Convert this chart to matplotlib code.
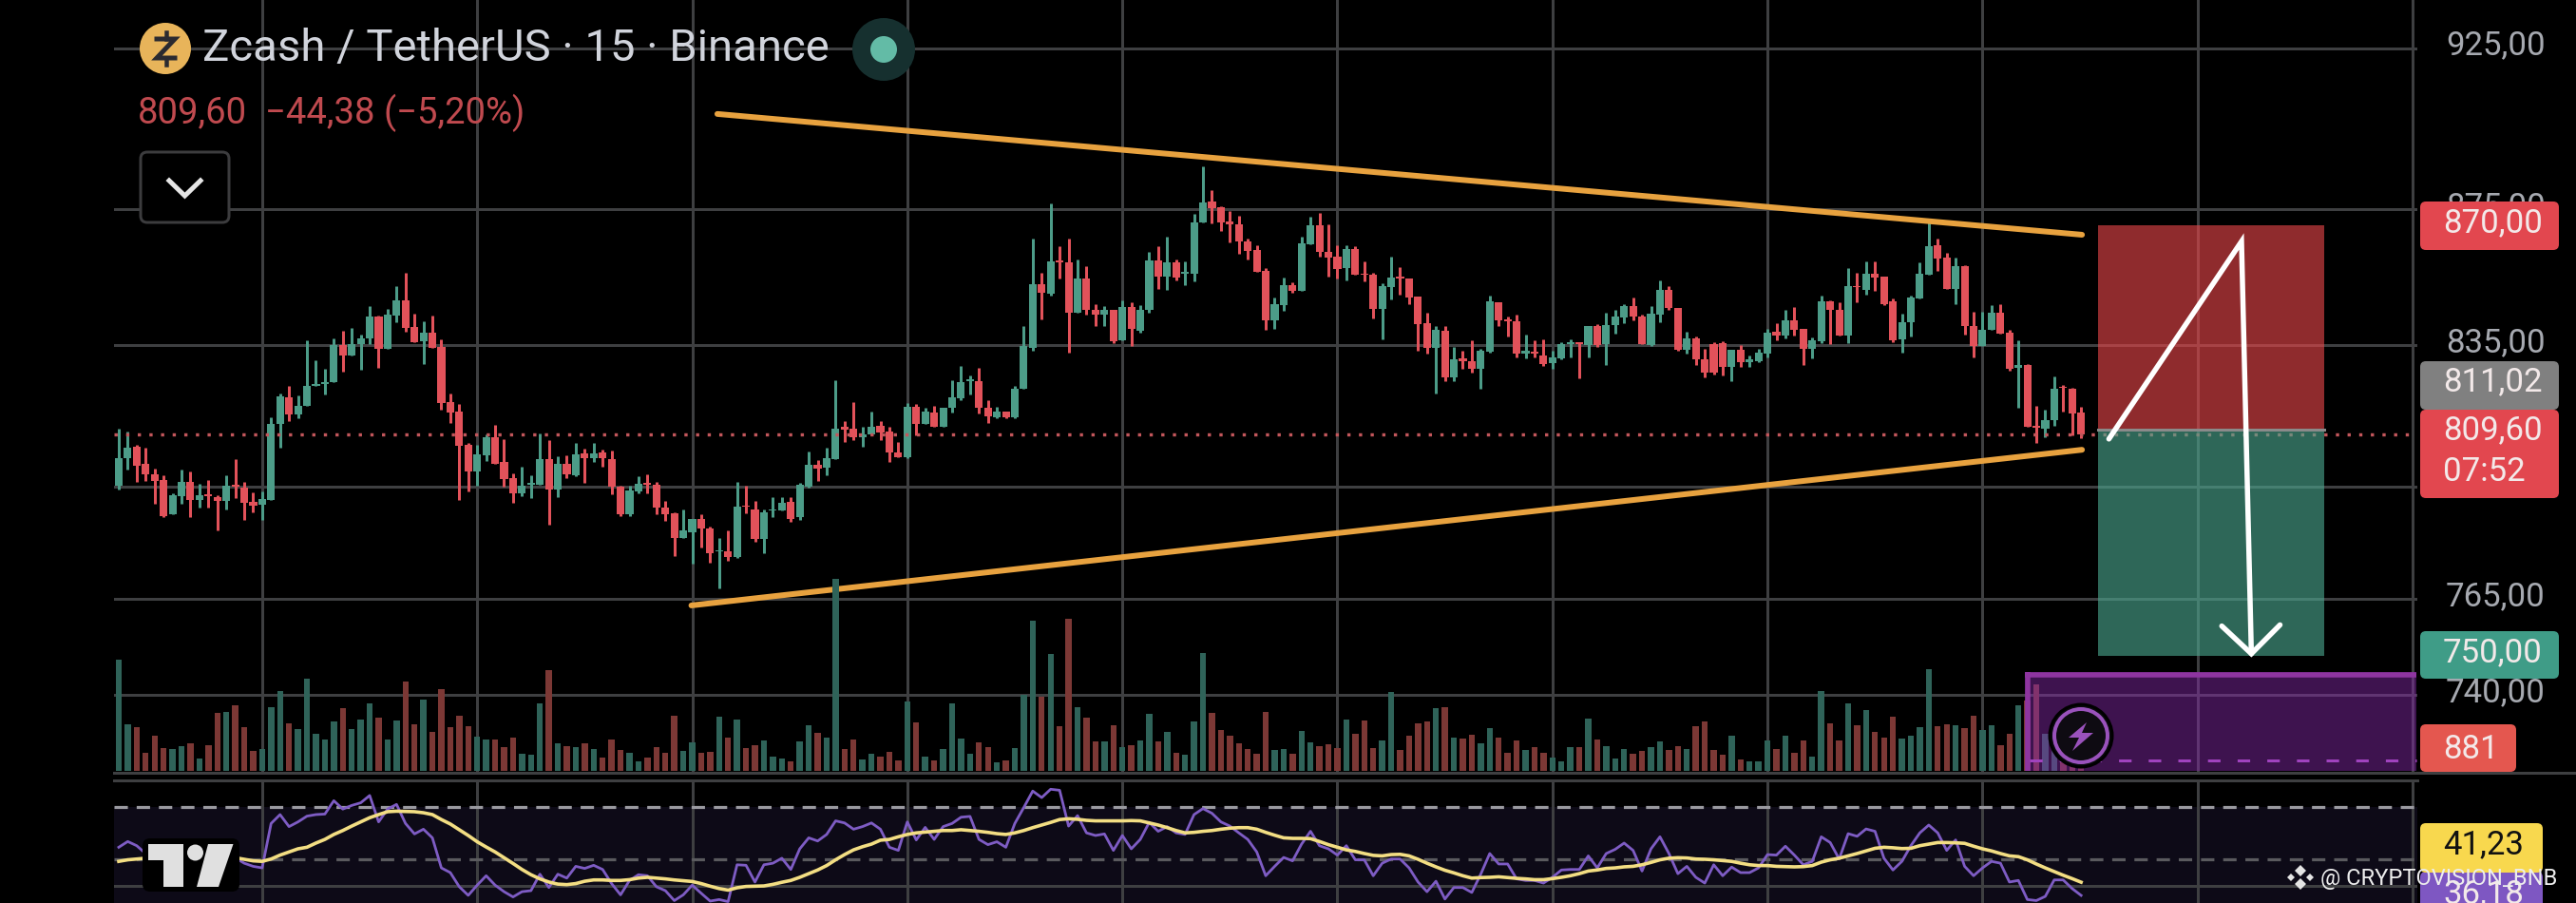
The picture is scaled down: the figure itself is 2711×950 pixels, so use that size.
import numpy as np
import matplotlib
matplotlib.use("Agg")
import matplotlib.pyplot as plt
from matplotlib.patches import Rectangle, FancyBboxPatch, Circle, Polygon, Ellipse
from matplotlib.ticker import NullLocator, FixedLocator, NullFormatter
from matplotlib.transforms import ScaledTranslation

plt.rcParams['font.family'] = ['Roboto', 'DejaVu Sans']

# ------------------------------ data ------------------------------
directions = ("GGRRRRGGRG" "RRGRRRGGGR" "GGGGGRGGGR" "GGRRGRRRRR"
              "GGRRRGGGRG" "RGRGRRRGGR" "RRRGGRRGRG" "RRGGGRGGRG"
              "GRRGGRRRGR" "GRGGGGRRGR" "GGGRGRRGRR" "GRGRGGRGRG"
              "GGRRRRRRRG" "GRGGRRRGRR" "RGGRRRRGRG" "RRGGRRRGRR"
              "GGGRGRGGGR" "RGGRRGRRRR" "GRGGGRGRRG" "GRRGRGRRRG"
              "GGGRRGRRGG" "RRGRRGGRRR")
highs = [811.3,810.4,806.6,805.8,800,798.2,793.4,799.7,799.2,795.9,
         796.9,792.7,798.2,802.8,796.3,793.5,793.7,814.3,821,823.1,
         820.6,836.4,830.5,828,836.9,839,839.9,838,846.2,843.4,
         845.4,852.2,855.9,844.1,841.8,843.4,836.7,821.2,818.1,807.3,
         806.6,809.6,812.2,808.2,798.8,800.7,798.3,809.9,807.9,803.4,
         803.7,807.3,805.7,807.3,805.4,805,795.3,795.3,797.9,798.5,
         796.3,791.2,788,788.9,786.4,787.6,784.3,781.2,783.2,796.3,
         795.3,791.2,788.9,792.2,792.2,792.3,796.1,804.8,802.5,805.8,
         824.9,813.4,818.7,811.6,815.9,813.4,811.6,807.4,818.5,818.2,
         817,817.6,817,824.9,829,826.1,828.4,819.2,817.3,816,
         823.2,840.3,866.2,856,876.7,863.8,866.1,859.9,858,846.9,
         846.3,845.2,848,847.3,846.4,862.2,863.9,866.6,859.8,859.5,
         873.6,888,880.7,876,874.3,872.9,866.1,864.2,857.4,848.8,
         854.6,853.3,866.6,872.8,873.8,870.4,864.1,864.1,863.8,859.5,
         856.1,852.9,860.8,857.7,854.4,849.1,844.4,840.3,840.3,834.4,
         833.4,836.2,833.7,849.4,847.3,843.1,843.7,838,836.2,836.5,
         833.2,835.8,836.7,835.7,840.3,841,844.4,845,846.9,848.8,
         843.7,846.3,853.8,852.1,845.7,838.9,837.3,833.7,835.8,836,
         833.5,834.8,832,833.7,839.6,841.2,845,846,839.6,837.1,
         849.2,847.8,847.3,857.3,855.9,859.4,859.4,855,848.4,843.9,
         849.2,859,871.2,866.1,862,860.5,858.3,844.5,844.5,846.4,
         846.9,839.4,836.4,829.6,817.6,816.6,825.9,823.5,822.6,817.4]
body_tops = [803.1,805.8,806.2,801.4,798.6,797,792.9,796.3,796.3,792.7,
             793,792.3,795.3,795.7,794.8,791,791.7,812.6,820.2,820,
             817.5,823.1,823.9,824.4,834.8,834.8,835.3,836.9,843.2,843.2,
             843.7,848,848,840.2,838.5,838.6,834.3,818.6,816,806.6,
             803.9,808.9,808.7,801.8,797.5,795.5,796.2,802.8,802.8,801.4,
             801.4,804.1,804.3,804.4,804.6,802.8,795.1,794,796,796.2,
             795.7,789.5,787.9,783.2,786.4,786.2,783.8,777.9,777.7,789.6,
             790,788.9,788.1,788.9,790.7,790.9,795.6,801.1,801.2,802.9,
             811.3,811.6,811.1,809.7,811.8,811.9,810.5,804.5,817.2,817.2,
             816,815.7,817,820,824.4,825,824.6,817,816,815.9,
             822.5,834.6,852.7,852.7,859.4,859.6,859.1,854.2,854.2,845.2,
             845,845.2,845.9,845.9,845.2,859.7,859.6,859.2,859,856.3,
             870.9,877,877.2,875.7,871.2,870.4,865.4,862.8,856.6,846.9,
             852.3,852.4,864.7,870,870,862.3,860.8,863,862.9,855.8,
             855.3,852.1,854.6,854.8,854.2,849.1,841.2,839.2,839,830.7,
             831,830.3,833.2,847.6,847.3,842.3,841.7,833.2,833.1,832,
             831.5,835.1,835.7,835.7,840.3,840.3,840.8,843.1,846.2,846.2,
             843.3,844.1,851,851,845.7,836.9,836.9,830.7,835.2,835.4,
             833.5,833.5,830.8,832.6,838.4,838.9,842,842,839.5,836.2,
             847.6,847.6,845.2,852,852.2,855.7,855.7,854.9,847.5,841.6,
             848.8,855.7,863.8,864.1,860.5,858,858,840.5,839.4,844.2,
             844.2,838.4,829.3,829.3,811.9,813.6,822.5,822.9,822.3,815.8]
body_bottoms = [795.5,803,801,798.4,796.6,787,787.6,792.6,791.6,791.6,
                792.6,791.1,791.1,795.1,790.7,790,790.3,791.6,812.6,815.3,
                815.3,817.5,823.1,823.9,824.2,832,832,835.2,836.9,833.9,
                833.9,843.4,840,835.8,836,834.1,818.4,815.7,806.4,799.2,
                799.2,803.8,801.4,797.2,793.3,793.3,795.7,795.7,794.4,794.4,
                798.5,798.3,803.1,803.1,802.9,795,787.6,787.6,793.8,795.7,
                789.3,787.6,781.2,781.2,782.8,783.6,777.2,777.5,776,776,
                789.6,781,780.8,788.6,788.6,786.3,786.8,795.2,800.2,800.3,
                802.7,810.9,808.7,808.9,809.7,810.2,804.5,803.3,803.2,812.4,
                812.4,811.7,811.7,817,819.7,824.5,817,814.6,814.3,814.4,
                814.3,822.3,834,850.1,849.7,859,844.2,844.2,845,843.8,
                843.7,836,836.3,839.5,839,845,854.8,854.8,854.6,855.7,
                855.7,870.9,875.4,871,870.3,865.2,862.4,856.4,842,842,
                846.6,850.7,850.8,864.5,862.1,860.5,857.1,857.3,855.5,855.3,
                845.3,845.3,851.8,854.2,848.8,841,834.1,834.1,825.7,825.7,
                830.3,828.1,828.1,833,842.2,841.7,832.4,832.4,832.5,829.6,
                829.8,831.2,835.1,835.1,834.9,834.9,835.2,840.7,842.9,843.3,
                835.1,834.9,843.7,845.7,833.5,833.5,830.8,826.9,826.9,828.7,
                828.7,830,829.9,830.3,832.4,837.6,837.6,839.3,833.8,833.8,
                836,845.2,837.6,837.6,851.8,851,854.6,846.7,836.4,836.6,
                841.4,848.5,855.5,860.3,851.3,851.3,840.5,834.6,834.6,839.3,
                838.3,828.1,828.4,811.7,811.4,811.2,813.6,822.6,815.4,809.6]
lows = [794.4,799.7,796.5,796.6,790.5,786.7,787.6,790.5,786.7,789.5,
        789.5,783.2,789,792.1,786.1,788,786.1,791.6,806,813.2,
        814,817.5,823.1,820.9,824.2,827.4,832,827.8,835.2,828.4,
        833.9,841.4,838.8,835.8,829.6,834,816.6,812.9,791.4,793.9,
        795.5,802.2,801.4,795,790.7,792.6,792,795.7,784.8,792.2,
        797.5,798.1,796.2,801.8,800.7,793,787.2,787.2,793.2,793.4,
        787.5,785.8,776.3,781.2,774.4,778.5,774.5,767.8,775,775.8,
        787.8,780.2,777,786.9,788.6,785.5,786.1,794.9,796.6,798.2,
        802.7,807.5,808,806.2,809.5,808,802,803.2,803,809.3,
        812.4,811.6,811.6,815.6,819.2,820.7,815.4,812.8,814.1,814,
        814.1,822.3,833.4,842.3,849.2,854.3,832.7,844.2,843.8,840.4,
        840.4,835.4,836.3,834.7,838.5,844.3,851.1,850.9,853.8,852.4,
        853.4,870.9,870.7,868.5,865,861.5,859.8,856.4,839.3,839.6,
        844.8,850,850.8,864.5,860.9,854.8,854.2,853.7,855.5,853.6,
        842.6,836.6,848.2,849.5,846.7,833.4,832.4,821.2,824.7,824.6,
        828.1,827.1,822.3,832.6,840.5,837.4,831.5,831.2,831.3,829,
        828.1,830.9,831.3,825.4,831.5,834.5,829.2,838.3,841.2,842,
        835.1,834.6,841.4,845,833.4,832.5,829.2,825.7,826.6,826.2,
        824.7,828.7,828.7,830,831.5,836.2,836.9,837.6,829.3,831.2,
        835.5,835.1,837.6,835.5,847.2,849.5,850.8,846.4,835.8,832.7,
        837.4,848.5,855.5,856.6,851.3,846.9,838,831.5,834.6,839.3,
        838.3,827.6,817,811.7,807.2,808.8,811.9,815.9,809.4,808.6]
volumes = [351,147,138,57,111,72,68,78,87,39,81,183,186,206,138,63,69,201,251,150,
           133,291,117,99,156,198,133,162,213,168,99,159,283,147,225,123,258,138,174,141,
           108,99,99,75,105,54,51,213,318,87,78,75,87,69,42,99,66,57,30,42,
           75,57,174,63,91,57,60,171,105,162,72,81,95,45,39,30,93,144,120,105,
           606,69,99,36,54,45,60,33,219,153,45,33,69,213,102,54,90,75,27,33,
           72,240,473,233,369,141,480,201,168,93,93,144,75,81,96,180,93,123,57,51,
           156,372,183,129,111,87,69,54,186,66,69,54,126,90,78,84,72,162,117,159,
           72,96,248,66,111,150,156,198,201,105,102,114,87,135,105,57,96,66,75,57,
           42,30,75,75,165,99,78,39,69,54,63,75,93,66,78,69,141,156,66,51,
           111,36,30,30,96,69,111,57,96,45,252,150,96,213,144,192,123,105,171,102,
           111,138,321,141,147,144,135,174,129,144,81,117,207,221,273,117,83,33,18,32]
rsi = [54.6,56.8,55.2,52.2,51,50.4,51.6,52.8,52.2,51.6,52.8,51.6,50.4,50.6,48.5,47.3,46.7,63.7,67.1,62.5,
       64.3,66.5,67.1,67.3,72.4,69.2,70.6,71.6,74.4,64.3,69.2,71,63.7,59.7,61.5,58.2,46.7,44.9,39.5,36.2,
       40.1,43.7,40.1,37.6,35.6,37.6,38,44.3,39.2,44.3,42.8,47.3,46.5,47.7,46.1,40.7,36.4,41.9,44.1,43.7,
       39.5,38,34.2,36.4,40.1,37,34,34.6,33.8,47.9,47.7,41.3,47.9,48.5,50.4,46.1,54,58.2,57,59.5,
       64.7,63.9,61.5,62.5,63.9,61.5,54.6,53.4,64.3,57.4,62.2,57.6,62.5,63.7,66.1,66.4,57.6,55.6,56.7,54.6,
       63.7,69.8,76.1,73.6,76.8,76.4,62.7,66.7,60.1,59.1,59.7,53.4,59.1,54,57.6,64.1,60.7,62.5,60.1,59.5,
       67.1,69.4,67.6,64.3,62.7,60.1,57.6,52.8,43.7,47.3,50.7,49.4,55.8,60.7,55.2,54,51.6,55.2,49.8,49.8,
       43.7,48.5,50.1,50.1,46.7,41.3,37.6,41.6,34.8,39.2,39.2,37.3,44.3,52.2,48.2,48.2,42.5,41.9,41.9,40.9,
       43.1,45.9,46.1,46.1,51.3,46.7,52.2,53.8,56.2,53.4,45.5,54,58.6,52.2,44.5,47.3,43.1,40.9,47.9,43.7,
       47,44.9,44.9,46.7,51.8,51.6,55,51.6,47.9,49.2,58.6,56.4,50.1,59.8,58.8,61.6,60.7,50.4,45.9,49.2,
       55.2,60.1,63.1,60.1,53.4,57.4,47.3,43.7,46.7,49.2,48.5,41.3,41.9,34.6,34.2,35.8,42.1,42.1,38.8,36.18]
rsi_ma = [49.2,49.8,50.1,50.4,50.6,50.7,50.7,50.6,50.6,50.6,50.6,50.6,50.6,50.6,50,49.4,49.2,50.1,51.6,52.8,
          54,54.6,56.2,57.6,59.5,61,62.7,64.3,65.9,67.1,68.2,68.4,68.3,68.2,67.8,67.1,65.2,63.5,61.3,59.1,
          56.7,54.7,52.8,50.6,48.4,46.1,44.1,42.5,41.3,40.5,40.3,40.7,41.6,42.1,42.1,41.9,41.9,42.2,42.8,43.1,
          42.8,42.5,42.1,41.8,41.5,40.7,39.7,38.8,38.2,39.1,39.6,39.7,39.8,40.4,41.2,41.9,43.1,44.5,45.9,47.6,
          49.8,51.8,53.6,54.8,55.8,57.3,57.6,58.6,59.5,60.1,60.4,60.7,61,61,61.3,61,60.7,60.3,59.8,59.5,
          60.1,61,62.1,63.1,64.1,65.2,65.5,65.3,64.9,64.7,64.7,64.7,64.7,64.8,64.7,63.9,63.1,62.1,61,60.1,
          60.3,60.7,61,61.5,61.9,62.1,62.1,61.5,60.3,59.2,58.2,58,58,57.9,56.8,55.6,54.6,53.6,53,52.2,
          51.5,51.3,51.8,51.9,51.3,50,48.5,47.1,45.8,44.8,43.7,42.8,43,43.1,43.3,43,42.7,42.5,42.2,42.2,
          42.6,43.1,43.7,44.5,45.5,45.9,46.5,46.7,47.1,47.3,47.9,48.8,49.8,50.4,50.6,50.5,50.1,50,49.8,49.5,
          49.2,48.5,47.9,47.6,47.6,47.3,47.2,47.1,47.2,47.6,48.9,49.8,50.4,51.3,52.2,53.2,54.2,54.6,54.4,54.1,
          54.2,55.2,55.8,56.4,56.4,56.3,56.1,55,54,53.2,52.2,51.3,51,49.8,48.2,46.7,45.3,43.9,42.6,41.23]

price_ticks = [925, 875, 835, 795, 765, 740]
price_tick_labels = ['925,00', '875,00', '835,00', '', '765,00', '740,00']
upper_trend_x, upper_trend_p = [66.8, 219.1], [904.2, 867.3]
lower_trend_x, lower_trend_p = [63.9, 219.1], [763.2, 805.3]
sketch_x, sketch_p = [222.1, 236.9, 238.0], [808.3, 865.3, 750.6]
head_x, head_p = [234.7, 238.0, 241.2], [757.8, 750.6, 758.1]
last_price, entry_price, stop_price, target_price = 809.60, 811.02, 870.00, 750.00
position_x = [220.9, 246.1]
grid_idx = list(range(16, 257, 24))
rsi_upper, rsi_mid, rsi_grid = 70, 50, 40

assert all(len(a) == 220 for a in (directions, highs, body_tops, body_bottoms, lows, volumes, rsi, rsi_ma)), \
    [len(a) for a in (directions, highs, body_tops, body_bottoms, lows, volumes, rsi, rsi_ma)]

# ------------------------------ layout ------------------------------
W, H = 2711, 950
fig = plt.figure(figsize=(W / 100, H / 100), dpi=100, facecolor='black')
px = 72 / 100  # points per pixel

def axes_px(x0, y0, x1, y1, **kw):
    return fig.add_axes([x0 / W, 1 - y1 / H, (x1 - x0) / W, (y1 - y0) / H], **kw)

PITCH = 9.43
XLIM = ((120 - 125) / PITCH, (2544 - 125) / PITCH)
GRID = '#3E3F41'
GREEN, RED = '#4C9C88', '#E2525A'
VGREEN, VRED = '#2F6359', '#7C3835'
x = np.arange(220)
up = np.array([c == 'G' for c in directions])
highs, lows = np.array(highs), np.array(lows)
tops, bottoms = np.array(body_tops), np.array(body_bottoms)
colors = np.where(up, GREEN, RED)

# price pane: log scale, 875 sits at y=220 px and 3050 px per e-fold
ax = axes_px(120, 0, 2544, 813, facecolor='none', zorder=1)
ax.set_yscale('log')
ax.set_ylim(875 * np.exp(-593 / 3050), 875 * np.exp(220 / 3050))
ax.set_xlim(*XLIM)
for s in ax.spines.values():
    s.set_visible(False)
ax.yaxis.tick_right()
ax.yaxis.set_major_locator(FixedLocator(price_ticks))
ax.yaxis.set_major_formatter(plt.FixedFormatter(price_tick_labels))
ax.yaxis.set_minor_locator(NullLocator())
ax.yaxis.set_minor_formatter(NullFormatter())
ax.set_xticks(grid_idx)
ax.tick_params(axis='x', length=0, labelbottom=False)
ax.tick_params(axis='y', length=0, pad=30 * px, labelsize=25, labelcolor='#A6A9B0')
up_shift = ScaledTranslation(0, 6 / 100, fig.dpi_scale_trans)
for t in ax.get_yticklabels():
    t.set_transform(t.get_transform() + up_shift)
ax.grid(True, color=GRID, lw=3 * px, zorder=0)
ax.set_axisbelow(True)

ax.vlines(x, lows, highs, colors=colors, lw=3 * px, zorder=3)
ax.bar(x, tops - bottoms, bottom=bottoms, width=0.86, color=colors, linewidth=0, zorder=4)

ax.plot(XLIM, [last_price] * 2, color='#C2565B', lw=3.4 * px, ls=(0, (1, 2.6)), zorder=5)
ax.plot(upper_trend_x, upper_trend_p, color='#E8A23F', lw=6 * px, solid_capstyle='round', zorder=6)
ax.plot(lower_trend_x, lower_trend_p, color='#E8A23F', lw=6 * px, solid_capstyle='round', zorder=6)

ax.fill_between(position_x, entry_price, stop_price, color='#E8464A', alpha=0.62, lw=0, zorder=5)
ax.fill_between(position_x, target_price, entry_price, color='#4CA88F', alpha=0.62, lw=0, zorder=5)
ax.plot(position_x, [entry_price] * 2, color='#8A8A8A', lw=3 * px, zorder=5.5)
ax.plot(sketch_x, sketch_p, color='white', lw=5.5 * px, solid_capstyle='round', solid_joinstyle='miter', zorder=7)
ax.plot(head_x, head_p, color='white', lw=5.5 * px, solid_capstyle='round', solid_joinstyle='miter', zorder=7)

# volume pane
vax = axes_px(120, 600, 2544, 811, facecolor='none', zorder=2)
vax.set_xlim(*XLIM)
vax.set_ylim(0, 633)
vax.axis('off')
vax.bar(x, volumes, width=0.68, color=np.where(up, VGREEN, VRED), linewidth=0)

# RSI pane
rax = axes_px(120, 821, 2544, 950, facecolor='none', zorder=1)
rax.set_xlim(*XLIM)
rax.set_ylim(50 - 46 / 2.75, 50 + 83 / 2.75)
for s in rax.spines.values():
    s.set_visible(False)
rax.set_xticks(grid_idx)
rax.set_yticks([rsi_grid])
rax.tick_params(length=0, labelbottom=False, labelleft=False)
rax.grid(True, color=GRID, lw=3 * px, zorder=1)
rax.set_axisbelow(True)
rax.axhspan(rax.get_ylim()[0], rsi_upper, color='#0D0A17', lw=0, zorder=0)
rax.axhline(rsi_upper, color='#9A9AA0', lw=3.2 * px, ls=(0, (4.4, 2.9)), zorder=2)
rax.axhline(rsi_mid, color='#5A5A5E', lw=3.2 * px, ls=(0, (4.4, 2.9)), zorder=2)
rax.plot(x, rsi, color='#7E5CC4', lw=2.8 * px, zorder=3)
rax.plot(x, rsi_ma, color='#F3DE83', lw=3.6 * px, zorder=4)

# ------------------------------ chrome in pixel coordinates ------------------------------
ui = axes_px(0, 0, W, H, facecolor='none', zorder=5)
ui.set_xlim(0, W)
ui.set_ylim(H, 0)
ui.axis('off')

ui.plot([120, W], [813, 813], color=GRID, lw=3 * px, zorder=1)
ui.plot([120, 2544], [821, 821], color=GRID, lw=3 * px, zorder=1)

# purple block over the volume pane
ui.add_patch(Rectangle((2131, 707), 412, 104, facecolor='#8A2BB0', alpha=0.45, lw=0, zorder=2))
ui.plot([2131, 2543], [709.5, 709.5], color='#8E35A0', lw=5.5 * px, zorder=3, solid_capstyle='butt')
ui.plot([2133.5, 2133.5], [707, 811], color='#8E35A0', lw=5.5 * px, zorder=3, solid_capstyle='butt')
ui.plot([2136, 2543], [800, 800], color='#A043BE', lw=3 * px, ls=(0, (4.4, 6)), zorder=3)
ui.add_patch(Ellipse((2190, 774), 66, 66, facecolor='#0A0A0F', edgecolor='black', lw=3 * px, zorder=4))
ui.add_patch(Ellipse((2190, 774), 56, 56, facecolor='#0E0B12', edgecolor='#9A52BC', lw=4 * px, zorder=4))
ui.add_patch(Polygon([(2196, 760), (2177, 776), (2188, 776), (2181, 790), (2203, 771), (2191, 771)],
                     closed=True, facecolor='#9A52BC', lw=0, zorder=5))

# header
ui.add_patch(Circle((174, 51), 27, facecolor='#E8B45A', lw=0, zorder=4))
ui.plot([165, 184, 165, 184], [41, 41, 61, 61], color='#2A2A30', lw=5 * px, zorder=5, solid_joinstyle='miter')
ui.plot([174.5, 174.5], [34, 41], color='#2A2A30', lw=4.5 * px, zorder=5)
ui.plot([174.5, 174.5], [61, 68], color='#2A2A30', lw=4.5 * px, zorder=5)
ui.text(213, 51, 'Zcash / TetherUS · 15 · Binance', color='#D1D4DC', fontsize=34,
        ha='left', va='center', zorder=5)
ui.add_patch(Circle((930, 52), 33, facecolor='#16302F', lw=0, zorder=4))
ui.add_patch(Circle((930, 52), 14, facecolor='#63BBA6', lw=0, zorder=5))
ui.text(145, 119, '809,60', color='#C04A4F', fontsize=27.5, ha='left', va='center', zorder=5)
ui.text(279, 119, '−44,38 (−5,20%)', color='#C04A4F', fontsize=27.5, ha='left', va='center', zorder=5)
ui.add_patch(FancyBboxPatch((148, 160), 93, 74, boxstyle='round,pad=0,rounding_size=7',
                            facecolor='black', edgecolor='#3C3C3E', lw=3 * px, zorder=4))
ui.plot([178, 194.5, 211], [190, 206, 190], color='#E6E6E6', lw=5 * px, zorder=5, solid_joinstyle='miter')

# price labels
def label(x0, x1, y0, y1, color, zorder=6):
    ui.add_patch(FancyBboxPatch((x0, y0), x1 - x0, y1 - y0, boxstyle='round,pad=0,rounding_size=6',
                                facecolor=color, lw=0, zorder=zorder))

def ltext(y, s, color='#F3E9E9', x0=2571):
    ui.text(x0, y, s, color=color, fontsize=25, ha='left', va='center', zorder=8)

label(2547, 2693, 212, 263, '#E2474F')
ltext(235, '870,00')
label(2547, 2693, 380, 431, '#808080')
ltext(402, '811,02')
label(2547, 2693, 431, 524, '#E2474F')
ltext(453, '809,60')
ltext(496, '07:52')
label(2547, 2693, 664, 714, '#3F9C87')
ltext(687, '750,00')
label(2547, 2648, 762, 812, '#E4574F')
ltext(788, '881')
label(2547, 2676, 917, 960, '#7E57C2')
ltext(941, '36,18')
label(2547, 2676, 866, 918, '#F8D84E')
ltext(889, '41,23', color='#111111')

# TradingView mark
ui.add_patch(FancyBboxPatch((150, 882), 102, 56, boxstyle='round,pad=0,rounding_size=8', facecolor='black', lw=0, zorder=6))
ui.add_patch(Polygon([(156, 888), (193, 888), (193, 933), (172, 933), (172, 905), (156, 905)], facecolor='#E0E0E0', lw=0, zorder=7))
ui.add_patch(Ellipse((205.5, 897), 17, 17, facecolor='#E0E0E0', lw=0, zorder=7))
ui.add_patch(Polygon([(219, 888), (245.5, 888), (230, 933), (207, 933)], facecolor='#E0E0E0', lw=0, zorder=7))

# watermark
ui.text(2442, 925, '@ CRYPTOVISION_BNB', color='#EDEDED', fontsize=17,
        ha='left', va='center', zorder=9)
dc = (2421, 923)
ui.add_patch(Polygon([(dc[0], dc[1] - 13), (dc[0] + 6, dc[1] - 7), (dc[0], dc[1] - 1), (dc[0] - 6, dc[1] - 7)], facecolor='#E4E4E4', lw=0, zorder=9))
ui.add_patch(Polygon([(dc[0], dc[1] + 13), (dc[0] + 6, dc[1] + 7), (dc[0], dc[1] + 1), (dc[0] - 6, dc[1] + 7)], facecolor='#E4E4E4', lw=0, zorder=9))
ui.add_patch(Polygon([(dc[0] - 14, dc[1]), (dc[0] - 10, dc[1] - 4), (dc[0] - 6, dc[1]), (dc[0] - 10, dc[1] + 4)], facecolor='#E4E4E4', lw=0, zorder=9))
ui.add_patch(Polygon([(dc[0] + 14, dc[1]), (dc[0] + 10, dc[1] - 4), (dc[0] + 6, dc[1]), (dc[0] + 10, dc[1] + 4)], facecolor='#E4E4E4', lw=0, zorder=9))

fig.savefig('out.png', dpi=100, facecolor='black')
